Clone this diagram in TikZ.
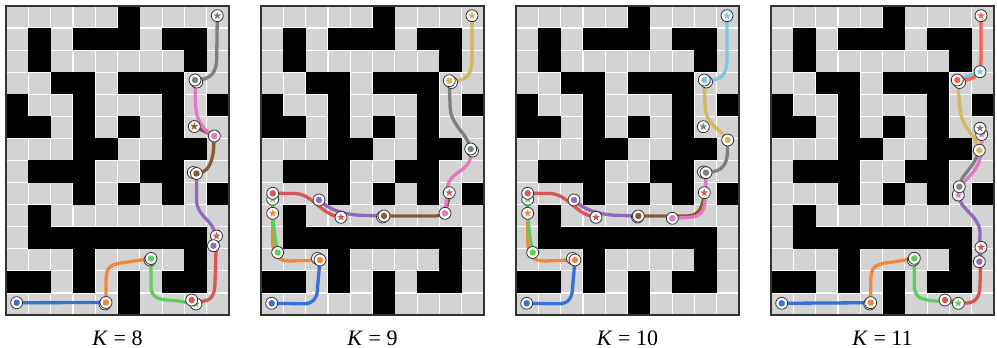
\documentclass[tikz,border=0pt]{standalone}
\usepackage{fontspec}
\setmainfont{Liberation Serif}
\usepackage{xcolor}
\usetikzlibrary{shapes.geometric}
\definecolor{cellgray}{RGB}{211,211,211}
\definecolor{pblue}{RGB}{58,111,216}
\definecolor{porange}{RGB}{240,135,60}
\definecolor{pgreen}{RGB}{95,205,90}
\definecolor{pred}{RGB}{216,86,86}
\definecolor{ppurple}{RGB}{148,103,189}
\definecolor{pbrown}{RGB}{140,90,50}
\definecolor{ppink}{RGB}{226,120,196}
\definecolor{pgray}{RGB}{127,127,127}
\definecolor{pgold}{RGB}{212,185,95}
\definecolor{plblue}{RGB}{125,200,228}
\definecolor{ptomato}{RGB}{250,95,80}

\begin{document}
\begin{tikzpicture}[x=1pt,y=-1pt,
    mk/.style={circle,draw=black!80,fill=white,line width=0.8pt,minimum size=12pt,inner sep=0pt,
      path picture={\fill[#1] (path picture bounding box.center) circle (3.2pt);}},
    tgt/.style={circle,draw=black!80,fill=white,line width=0.8pt,minimum size=12pt,inner sep=0pt,
      path picture={\node[star,star points=5,star point ratio=2.4,draw=none,fill=#1,inner sep=0pt,minimum size=8pt] at (path picture bounding box.center) {};}},
    seg/.style={#1,line width=3.3pt,line cap=round,line join=round}]
  \useasboundingbox (0,0) rectangle (997,348);
  % the four mazes
  \foreach \p/\k in {0/8,1/9,2/10,3/11} {
    \begin{scope}[xshift=\p*255]
      \fill[white] (6,6) rectangle (229,315);
      \foreach \r in {0,...,13} \foreach \c in {0,...,9}
        \fill[cellgray] ({6+22.3*\c+0.6},{6+22.07*\r+0.6}) rectangle +(21.1,20.87);
      \foreach \r/\a/\b in {0/5/5,1/1/1,1/3/5,1/7/8,2/1/1,2/8/8,3/2/3,3/5/7,4/0/0,4/3/3,4/7/7,4/9/9,
          5/0/1,5/3/3,5/5/5,5/7/7,6/3/4,6/7/8,7/1/3,7/6/7,8/3/3,8/5/5,8/7/7,8/9/9,9/1/1,10/1/8,
          11/3/3,11/8/8,12/0/1,12/3/3,12/5/5,12/7/8,13/5/5}
        \fill[black] ({6+22.3*\a},{6+22.07*\r}) rectangle ({6+22.3*\b+22.3},{6+22.07*\r+22.07});
      \draw[black!80,line width=1.3pt] (6,6) rectangle (229,315);
      \node[font=\fontsize{22}{26}\selectfont,anchor=base] (lab\k) at (117.5,345) {\textit{K} = \k};
    \end{scope}
  }

  % K=8
  \begin{scope}
    \coordinate (b1) at (16.7,302.7);  \coordinate (o1) at (106,302.5);
    \coordinate (g1) at (151,258.5);   \coordinate (r1) at (191.7,300);
    \coordinate (p1) at (213.5,245.7); \coordinate (n1) at (196.5,173.5);
    \coordinate (k1) at (214.3,136);   \coordinate (a1) at (195,80);
    \coordinate (z1) at (217.3,15.7);
    \coordinate (gs1) at (196,304);    \coordinate (rs1) at (216.5,236);
    \coordinate (ns1) at (194.3,126.5);
    \draw[seg=pblue] (b1) -- (o1);
    \draw[seg=porange] (o1) -- (106,282) .. controls (106,266) and (110,264) .. (128,262) -- (g1);
    \draw[seg=pgreen] (g1) -- (151,286) .. controls (151,298) and (158,300) .. (175,300.5) -- (gs1);
    \draw[seg=pred] (r1) -- (198,301.5) .. controls (211,302) and (215,296) .. (215,282) -- (rs1);
    \draw[seg=ppurple] (n1) -- (196.5,200) .. controls (197,218) and (215,220) .. (215,236) -- (p1);
    \draw[seg=pbrown] (n1) .. controls (208,173) and (212,163) .. (213.5,150) -- (k1) -- (ns1);
    \draw[seg=ppink] (a1) -- (195.5,105) .. controls (196.5,122) and (204,131) .. (k1);
    \draw[seg=pgray] (a1) .. controls (212,80) and (216.5,72) .. (216.7,58) -- (z1);
    \node[tgt=pblue] (bs1) at (105,304) {};
    \node[tgt=porange] (os1) at (150,260) {};
    \node[tgt=pgreen] (GS1) at (gs1) {};
    \node[tgt=pred] (RS1) at (rs1) {};
    \node[tgt=ppurple] (ps1) at (193.3,172.5) {};
    \node[tgt=pbrown] (NS1) at (ns1) {};
    \node[tgt=ppink] (ks1) at (196.7,82) {};
    \node[mk=pblue] (B1) at (b1) {};
    \node[mk=porange] (O1) at (o1) {};
    \node[mk=pgreen] (G1) at (g1) {};
    \node[mk=pred] (R1) at (r1) {};
    \node[mk=ppurple] (P1) at (p1) {};
    \node[mk=pbrown] (N1) at (n1) {};
    \node[mk=ppink] (K1) at (k1) {};
    \node[mk=pgray] (A1) at (a1) {};
    \node[tgt=pgray] (Z1) at (z1) {};
  \end{scope}

  % K=9
  \begin{scope}[xshift=255]
    \coordinate (b2) at (16.7,303.3);  \coordinate (o2) at (65,260);
    \coordinate (g2) at (22.7,252.5);  \coordinate (r2) at (17.7,193.3);
    \coordinate (p2) at (64,200);      \coordinate (n2) at (129,216);
    \coordinate (k2) at (190,213.3);   \coordinate (a2) at (215.7,149);
    \coordinate (y2) at (194.3,80.7);  \coordinate (z2) at (217,15.7);
    \coordinate (os2) at (17.7,213.3); \coordinate (gs2) at (17.7,199.3);
    \coordinate (rs2) at (86,217.3);   \coordinate (ns2) at (194.3,192.7);
    \draw[seg=pblue] (b2) -- (48,303.8) .. controls (58,304) and (62.5,298) .. (62.5,288) -- (o2);
    \draw[seg=porange] (o2) -- (35,261) .. controls (22,261) and (17.7,255) .. (17.7,240) -- (os2);
    \draw[seg=pgreen] (g2) .. controls (19.5,236) and (17.7,222) .. (gs2);
    \draw[seg=pred] (r2) -- (40,193.5) .. controls (58,194) and (66,215) .. (rs2);
    \draw[seg=ppurple] (p2) .. controls (74,210) and (88,214) .. (105,215.3) -- (n2);
    \draw[seg=pbrown] (n2) -- (180,216) .. controls (189,216) and (192.5,210) .. (ns2);
    \draw[seg=ppink] (k2) -- (192.7,188) .. controls (193,172) and (214,172) .. (215.5,157) -- (a2);
    \draw[seg=pgray] (a2) .. controls (212,132) and (195,126) .. (195,105) -- (y2);
    \draw[seg=pgold] (y2) .. controls (212,82) and (217,75) .. (217,58) -- (z2);
    \node[tgt=pblue] (bs2) at (62.5,258.5) {};
    \node[tgt=porange] (OS2) at (os2) {};
    \node[tgt=pgreen] (GS2) at (gs2) {};
    \node[tgt=pred] (RS2) at (rs2) {};
    \node[tgt=ppurple] (ps2) at (127.5,217) {};
    \node[tgt=pred] (NS2) at (ns2) {};
    \node[tgt=ppink] (ks2) at (217.5,151) {};
    \node[tgt=pgray] (as2) at (196.5,82.5) {};
    \node[mk=pblue] (B2) at (b2) {};
    \node[mk=porange] (O2) at (o2) {};
    \node[mk=pgreen] (G2) at (g2) {};
    \node[mk=pred] (R2) at (r2) {};
    \node[mk=ppurple] (P2) at (p2) {};
    \node[mk=pbrown] (N2) at (n2) {};
    \node[mk=ppink] (K2) at (k2) {};
    \node[mk=pgray] (A2) at (a2) {};
    \node[mk=pgold] (Y2) at (y2) {};
    \node[tgt=pgold] (Z2) at (z2) {};
  \end{scope}

  % K=10
  \begin{scope}[xshift=510]
    \coordinate (b3) at (16.7,303.3);  \coordinate (o3) at (65,260);
    \coordinate (g3) at (22.7,252.5);  \coordinate (r3) at (17.7,193.3);
    \coordinate (p3) at (64,200);      \coordinate (n3) at (128.3,216);
    \coordinate (k3) at (162.3,218.3); \coordinate (a3) at (196,172.7);
    \coordinate (y3) at (217.7,140);   \coordinate (c3) at (194.3,80);
    \coordinate (z3) at (217,15.7);
    \coordinate (os3) at (17.7,213.3); \coordinate (gs3) at (17.7,199.3);
    \coordinate (rs3) at (86,217.3);   \coordinate (ns3) at (194.3,192.7);
    \draw[seg=pblue] (b3) -- (48,303.8) .. controls (58,304) and (62.5,298) .. (62.5,288) -- (o3);
    \draw[seg=porange] (o3) -- (35,261) .. controls (22,261) and (17.7,255) .. (17.7,240) -- (os3);
    \draw[seg=pgreen] (g3) .. controls (19.5,236) and (17.7,222) .. (gs3);
    \draw[seg=pred] (r3) -- (40,193.5) .. controls (58,194) and (66,215) .. (rs3);
    \draw[seg=ppurple] (p3) .. controls (74,210) and (88,214) .. (105,215.3) -- (n3);
    \draw[seg=pbrown] (n3) -- (176,216) .. controls (188,216) and (192.5,210) .. (ns3);
    \draw[seg=ppink] (k3) -- (178,217.5) .. controls (190,217) and (194.7,212) .. (195,200) -- (a3);
    \draw[seg=pgray] (a3) .. controls (212,172) and (217.5,165) .. (217.5,150) -- (y3);
    \draw[seg=pgold] (y3) .. controls (212,130) and (195,125) .. (195,105) -- (c3);
    \draw[seg=plblue] (c3) .. controls (212,81) and (217,75) .. (217,58) -- (z3);
    \node[tgt=pblue] (bs3) at (62.5,258.5) {};
    \node[tgt=porange] (OS3) at (os3) {};
    \node[tgt=pgreen] (GS3) at (gs3) {};
    \node[tgt=pred] (RS3) at (rs3) {};
    \node[tgt=ppurple] (ps3) at (127.5,217) {};
    \node[tgt=pred] (NS3) at (ns3) {};
    \node[tgt=ppink] (ks3) at (193.5,172) {};
    \node[tgt=pgray] (as3) at (193.3,126.7) {};
    \node[tgt=pgold] (ys3) at (196.5,82) {};
    \node[mk=pblue] (B3) at (b3) {};
    \node[mk=porange] (O3) at (o3) {};
    \node[mk=pgreen] (G3) at (g3) {};
    \node[mk=pred] (R3) at (r3) {};
    \node[mk=ppurple] (P3) at (p3) {};
    \node[mk=pbrown] (N3) at (n3) {};
    \node[mk=ppink] (K3) at (k3) {};
    \node[mk=pgray] (A3) at (a3) {};
    \node[mk=pgold] (Y3) at (y3) {};
    \node[mk=plblue] (C3) at (c3) {};
    \node[tgt=plblue] (Z3) at (z3) {};
  \end{scope}

  % K=11
  \begin{scope}[xshift=765]
    \coordinate (b4) at (16.7,303.3);  \coordinate (o4) at (105.7,302.7);
    \coordinate (g4) at (149.3,258.3); \coordinate (r4) at (180,300);
    \coordinate (p4) at (214.3,261.7); \coordinate (a4) at (194.3,186.7);
    \coordinate (y4) at (214.3,150.3); \coordinate (t4) at (192.3,80);
    \coordinate (z4) at (216,15.7);
    \coordinate (gs4) at (193.3,303.3); \coordinate (rs4) at (216,247.3);
    \coordinate (ps4) at (193.3,195);   \coordinate (ks4) at (216.7,134.5);
    \coordinate (ls4) at (215,71.7);
    \draw[seg=pblue] (b4) -- (o4);
    \draw[seg=porange] (o4) -- (105.7,282) .. controls (105.7,266) and (110,264) .. (128,262) -- (g4);
    \draw[seg=pgreen] (g4) -- (149.3,285) .. controls (149.5,298) and (156,300) .. (172,301) -- (gs4);
    \draw[seg=pred] (r4) -- (198,303) .. controls (210,304) and (215,298) .. (215,285) -- (rs4);
    \draw[seg=ppurple] (p4) -- (215,232) .. controls (214,215) and (195,210) .. (ps4);
    \draw[seg=ppink] (a4) .. controls (200,180) and (215.5,170) .. (216.5,150) -- (ks4);
    \draw[seg=pgray] (a4) .. controls (195,175) and (208,170) .. (y4);
    \draw[seg=pgold] (y4) .. controls (212,136) and (196,128) .. (195,108) -- (t4);
    \draw[seg=plblue] (t4) -- (ls4);
    \draw[seg=ptomato] (t4) .. controls (210,81) and (216,75) .. (216,58) -- (z4);
    \node[tgt=pblue] (bs4) at (104.7,304) {};
    \node[tgt=porange] (os4) at (148.3,260) {};
    \node[tgt=pgreen] (GS4) at (gs4) {};
    \node[tgt=pred] (RS4) at (rs4) {};
    \node[tgt=ppink] (PS4) at (ps4) {};
    \node[tgt=ppink] (KS4) at (ks4) {};
    \node[tgt=pgray] (as4) at (215,128.3) {};
    \node[tgt=plblue] (LS4) at (ls4) {};
    \node[tgt=pgold] (ys4) at (194.5,82.5) {};
    \node[mk=pblue] (B4) at (b4) {};
    \node[mk=porange] (O4) at (o4) {};
    \node[mk=pgreen] (G4) at (g4) {};
    \node[mk=pred] (R4) at (r4) {};
    \node[mk=ppurple] (P4) at (p4) {};
    \node[mk=pgray] (A4) at (a4) {};
    \node[mk=pgold] (Y4) at (y4) {};
    \node[mk=ptomato] (T4) at (t4) {};
    \node[tgt=ptomato] (Z4) at (z4) {};
  \end{scope}
\end{tikzpicture}
\end{document}
